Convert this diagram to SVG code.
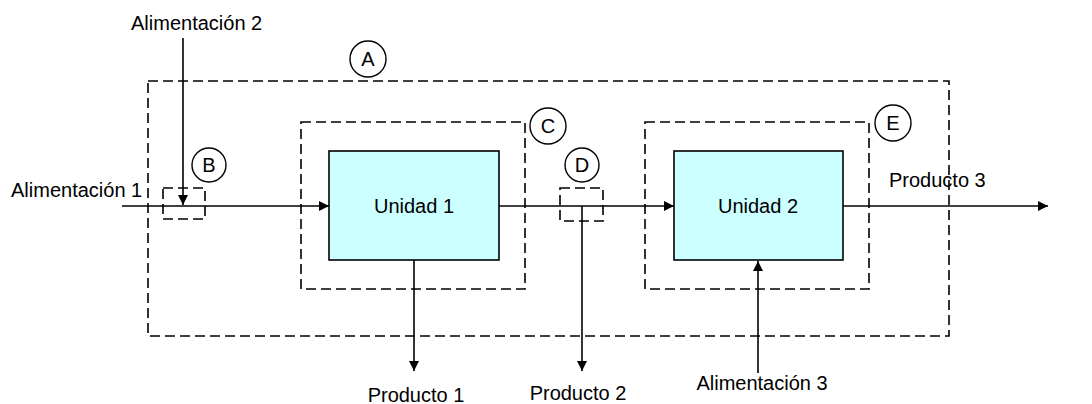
<svg xmlns="http://www.w3.org/2000/svg" width="1092" height="404" viewBox="0 0 1092 404">
  <style>
    .bound { fill: none; stroke: #000; stroke-width: 1.6; stroke-dasharray: 10 5; }
    .unit { fill: #ccffff; stroke: #000; stroke-width: 1.6; }
    .tag { fill: #fff; stroke: #000; stroke-width: 1.4; }
    .flow { fill: none; stroke: #000; stroke-width: 1.6; }
    .lbl { font-family: "Liberation Sans", Arial, sans-serif; font-size: 20px; fill: #000; }
    .mid { text-anchor: middle; }
  </style>
  <defs>
    <marker id="arrow" viewBox="0 0 10 10" refX="10" refY="5" markerWidth="10" markerHeight="10" markerUnits="userSpaceOnUse" orient="auto">
      <path d="M0,0 L10,5 L0,10 Z" fill="#000"/>
    </marker>
  </defs>

  <!-- system boundaries -->
  <g id="boundary-A">
    <rect class="bound" x="148" y="81" width="801" height="255"/>
    <circle class="tag" cx="368" cy="59" r="18"/>
    <text class="lbl mid" x="368" y="66">A</text>
  </g>
  <g id="boundary-B">
    <rect class="bound" x="163" y="188" width="42" height="31"/>
    <circle class="tag" cx="209" cy="165" r="17"/>
    <text class="lbl mid" x="209" y="172">B</text>
  </g>
  <g id="boundary-C">
    <rect class="bound" x="301" y="122" width="224" height="167"/>
    <circle class="tag" cx="548" cy="126" r="18"/>
    <text class="lbl mid" x="548" y="133">C</text>
  </g>
  <g id="boundary-D">
    <rect class="bound" x="560" y="188" width="43" height="33"/>
    <circle class="tag" cx="582" cy="165" r="17"/>
    <text class="lbl mid" x="582" y="172">D</text>
  </g>
  <g id="boundary-E">
    <rect class="bound" x="645" y="122" width="224" height="167"/>
    <circle class="tag" cx="893" cy="123" r="18"/>
    <text class="lbl mid" x="893" y="130">E</text>
  </g>

  <!-- process units -->
  <g id="unidad-1">
    <rect class="unit" x="329" y="151" width="170" height="109"/>
    <text class="lbl mid" x="414" y="213">Unidad 1</text>
  </g>
  <g id="unidad-2">
    <rect class="unit" x="674" y="151" width="169" height="109"/>
    <text class="lbl mid" x="758" y="213">Unidad 2</text>
  </g>

  <!-- streams -->
  <g id="connectors">
    <line class="flow" x1="122" y1="206" x2="329" y2="206" marker-end="url(#arrow)"/>
    <line class="flow" x1="183" y1="38" x2="183" y2="205" marker-end="url(#arrow)"/>
    <line class="flow" x1="499" y1="206" x2="674" y2="206" marker-end="url(#arrow)"/>
    <line class="flow" x1="843" y1="206" x2="1048" y2="206" marker-end="url(#arrow)"/>
    <line class="flow" x1="414" y1="260" x2="414" y2="371" marker-end="url(#arrow)"/>
    <line class="flow" x1="582" y1="206" x2="582" y2="371" marker-end="url(#arrow)"/>
    <line class="flow" x1="758" y1="373" x2="758" y2="261" marker-end="url(#arrow)"/>
  </g>

  <!-- stream labels -->
  <g id="labels">
    <text class="lbl" x="131" y="30">Alimentación 2</text>
    <text class="lbl" x="11" y="197">Alimentación 1</text>
    <text class="lbl" x="889" y="187">Producto 3</text>
    <text class="lbl mid" x="416" y="402">Producto 1</text>
    <text class="lbl mid" x="578" y="400">Producto 2</text>
    <text class="lbl mid" x="762" y="390">Alimentación 3</text>
  </g>
</svg>
